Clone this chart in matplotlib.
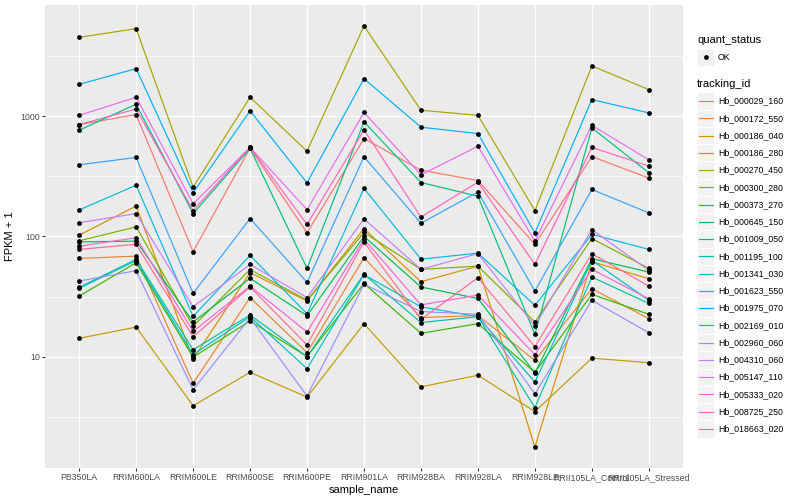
import matplotlib
matplotlib.use("Agg")
import matplotlib.pyplot as plt
from matplotlib.ticker import FixedLocator, NullFormatter
from matplotlib.patches import Rectangle
from matplotlib.lines import Line2D

plt.rcParams['font.family'] = ['Liberation Sans', 'DejaVu Sans']

# samples on the x axis
sample_names = ["PB350LA", "RRIM600LA", "RRIM600LE", "RRIM600SE", "RRIM600PE",
                "RRIM901LA", "RRIM928BA", "RRIM928LA", "RRIM928LE",
                "RRII105LA_Control", "RRII105LA_Stressed"]

tracking_ids = ["Hb_000029_160", "Hb_000172_550", "Hb_000186_040", "Hb_000186_280",
                "Hb_000270_450", "Hb_000300_280", "Hb_000373_270", "Hb_000645_150",
                "Hb_001009_050", "Hb_001195_100", "Hb_001341_030", "Hb_001623_550",
                "Hb_001975_070", "Hb_002169_010", "Hb_002960_060", "Hb_004310_060",
                "Hb_005147_110", "Hb_005333_020", "Hb_008725_250", "Hb_018663_020"]

# FPKM + 1 per gene, one value per sample
hb_000029_160 = [853, 1033, 74.7, 545, 107, 653, 356, 292, 86, 462, 306]
hb_000172_550 = [65.6, 68.6, 6.0, 31, 10.8, 66.5, 21.1, 22, 9.3, 36.7, 20.7]
hb_000186_040 = [102.5, 179, 9.5, 50, 29, 116, 42, 56.6, 1.77, 61.6, 44.5]
hb_000186_280 = [14.2, 17.6, 3.9, 7.4, 4.6, 18.8, 5.6, 7.0, 3.49, 9.7, 8.9]
hb_000270_450 = [4540, 5360, 257, 1440, 512, 5640, 1123, 1018, 164, 2625, 1667]
hb_000300_280 = [92, 120, 17.9, 53, 29.5, 108, 53.2, 56.6, 19.4, 96, 54.2]
hb_000373_270 = [31.9, 60.4, 9.9, 19.8, 10, 40.6, 15.6, 18.8, 7.4, 33, 22.5]
hb_000645_150 = [90, 91.4, 19.4, 44.8, 21.9, 100, 37.9, 30.5, 7.3, 65.3, 50.5]
hb_001009_050 = [766, 1260, 155, 540, 54.2, 898, 281, 216, 15.3, 801, 339]
hb_001195_100 = [37.7, 64.4, 11.4, 22.2, 10, 48.5, 19.2, 21.5, 3.77, 45.9, 27.7]
hb_001341_030 = [37, 63, 10.4, 21.5, 7.94, 48, 26, 21.5, 6.15, 63.2, 29.4]
hb_001623_550 = [166, 267, 21.6, 69.5, 22.7, 251, 64.7, 72.6, 26.7, 104, 78]
hb_001975_070 = [1845, 2490, 231, 1110, 279, 2055, 811, 718, 107, 1377, 1067]
hb_002169_010 = [395, 454, 33.6, 141, 41.5, 460, 129, 234, 35.1, 246, 157]
hb_002960_060 = [42.5, 51.9, 5.3, 21, 4.7, 40, 23.7, 22.5, 4.9, 29.4, 15.8]
hb_004310_060 = [130, 155, 26, 58.5, 31, 140, 53.2, 72, 18, 114, 52.2]
hb_005147_110 = [1018, 1440, 187, 550, 167, 1075, 326, 563, 91.4, 841, 434]
hb_005333_020 = [83, 97.5, 16.2, 38.6, 16, 95, 26.9, 32.5, 10.4, 53.2, 30.3]
hb_008725_250 = [853, 1150, 164, 555, 126, 770, 145, 283, 58.5, 550, 385]
hb_018663_020 = [78, 86, 14.6, 38, 12.5, 90, 20.4, 45.4, 12.1, 71.8, 38.6]

series = [hb_000029_160, hb_000172_550, hb_000186_040, hb_000186_280, hb_000270_450,
          hb_000300_280, hb_000373_270, hb_000645_150, hb_001009_050, hb_001195_100,
          hb_001341_030, hb_001623_550, hb_001975_070, hb_002169_010, hb_002960_060,
          hb_004310_060, hb_005147_110, hb_005333_020, hb_008725_250, hb_018663_020]

# ggplot2 default hue palette for 20 levels
colors = ["#F8766D", "#EA8331", "#D89000", "#C09B00", "#A3A500", "#7CAE00", "#39B600",
          "#00BB4E", "#00BF7D", "#00C1A3", "#00BFC4", "#00BAE0", "#00B0F6", "#35A2FF",
          "#9590FF", "#C77CFF", "#E76BF3", "#FA62DB", "#FF62BC", "#FF6C91"]

W, H = 800, 500
fig = plt.figure(figsize=(8, 5), dpi=100)
fig.patch.set_facecolor("white")

# panel in pixel coords
left, right, top, bottom = 45, 683, 5, 468
ax = fig.add_axes([left / W, 1 - bottom / H, (right - left) / W, (bottom - top) / H])
ax.set_facecolor("#EBEBEB")
for s in ax.spines.values():
    s.set_visible(False)

x = list(range(1, len(sample_names) + 1))
for vals, c in zip(series, colors):
    ax.plot(x, vals, color=c, lw=0.85, zorder=3)
for vals in series:
    ax.scatter(x, vals, s=12, color="black", zorder=4, linewidths=0)

ax.set_yscale("log")
ax.set_xlim(0.4, 11.6)
ax.set_ylim(10 ** 0.073, 10 ** 3.926)
ax.yaxis.set_major_locator(FixedLocator([10, 100, 1000]))
ax.set_yticklabels(["10", "100", "1000"])
ax.yaxis.set_minor_locator(FixedLocator([10 ** 0.5, 10 ** 1.5, 10 ** 2.5, 10 ** 3.5]))
ax.yaxis.set_minor_formatter(NullFormatter())
ax.set_xticks(x)
ax.set_xticklabels(sample_names)

ax.grid(True, which="major", color="white", lw=1.0, zorder=0)
ax.grid(True, which="minor", axis="y", color="white", lw=0.5, zorder=0)
ax.set_axisbelow(True)
ax.tick_params(axis="both", which="major", length=2.0, width=0.8, color="#333333",
               labelsize=6.3, labelcolor="#4D4D4D", pad=1.6)
ax.tick_params(axis="y", which="minor", length=0)

ax.set_xlabel("sample_name", fontsize=8, labelpad=2)
ax.set_ylabel("FPKM + 1", fontsize=8, labelpad=4)

# legend drawn by hand on the right
lg = fig.add_axes([0, 0, 1, 1], facecolor="none")
lg.set_xlim(0, W)
lg.set_ylim(H, 0)
lg.axis("off")

lg.text(697, 40, "quant_status", fontsize=8, va="center", ha="left")
lg.add_patch(Rectangle((697, 48.5), 17, 17, facecolor="#F2F2F2", edgecolor="white", lw=0.7))
lg.scatter([705.5], [57], s=12, color="black", linewidths=0)
lg.text(718, 57, "OK", fontsize=6.3, va="center", ha="left")

lg.text(697, 84, "tracking_id", fontsize=8, va="center", ha="left")
step = 17.26
for i, (tid, c) in enumerate(zip(tracking_ids, colors)):
    cy = 101 + i * step
    lg.add_patch(Rectangle((697, cy - step / 2), 17, step, facecolor="#F2F2F2",
                           edgecolor="white", lw=0.7))
    lg.add_line(Line2D([698.5, 712.5], [cy, cy], color=c, lw=0.85))
    lg.text(718, cy, tid, fontsize=6.3, va="center", ha="left")

fig.savefig("out.png", dpi=100)
